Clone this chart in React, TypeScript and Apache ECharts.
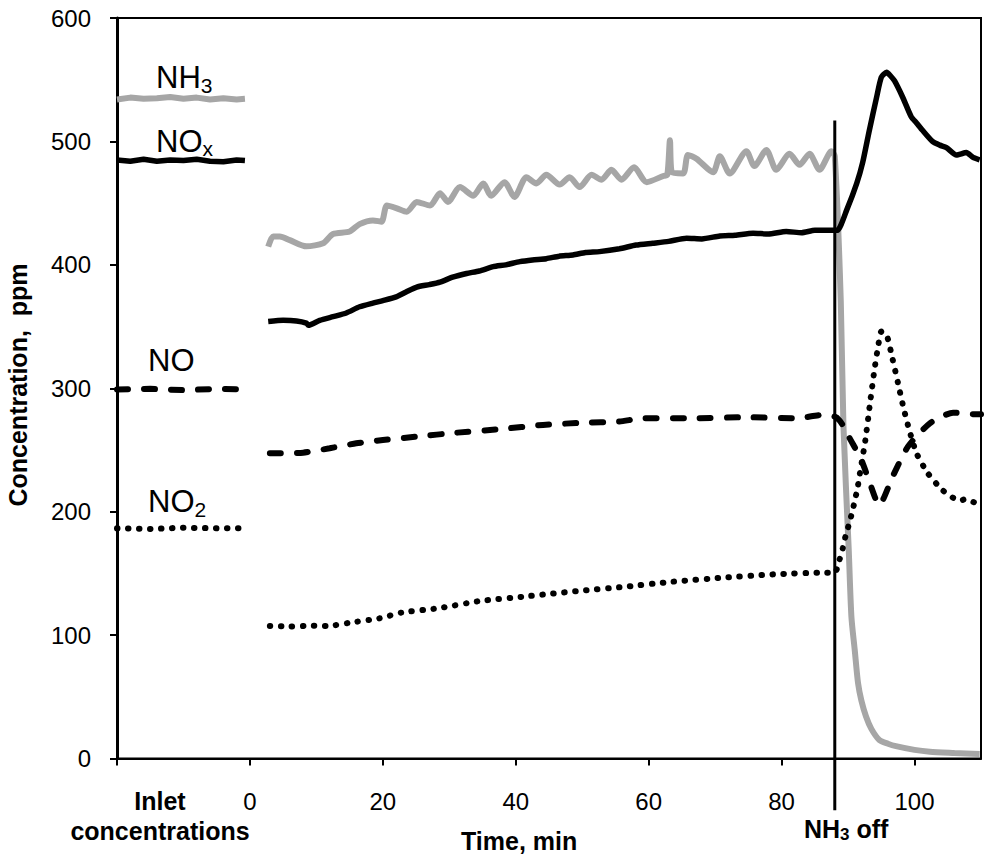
import React, { useEffect, useRef } from "react";
import * as echarts from "echarts";

// ---------- data (time in min, concentration in ppm) ----------
const xTickValues = [-20, 0, 20, 40, 60, 80, 100];
const xLabelValues = [0, 20, 40, 60, 80, 100];

const nh3Inlet = [[-20, 534], [-18, 535.5], [-16, 534.5], [-14, 535], [-12, 536], [-10, 534.5], [-8, 535.5], [-6, 534], [-4, 535], [-2, 534], [-0.75, 534.5]];
const noxInlet = [[-20, 485], [-18, 484], [-16, 485.5], [-14, 484], [-12, 485], [-10, 484.5], [-8, 485.5], [-6, 484], [-4, 483.5], [-2, 485], [-0.75, 484.5]];
const noInlet = [[-20, 299], [-15, 299.5], [-10, 298.5], [-5, 299.5], [-0.75, 299]];
const no2Inlet = [[-20, 186.5], [-15, 186], [-10, 187], [-5, 186.5], [-0.75, 186.5]];

const nh3Run = [
  [2.75, 414.7], [3.5, 423], [4.5, 423], [6, 420], [8.5, 415], [11, 417.5], [12.5, 425], [15, 427], [16.5, 433],
  [18.5, 436], [19.8, 435], [20.6, 448], [22, 446], [23.6, 443], [25.1, 451], [27.1, 448], [28.6, 458], [29.8, 451],
  [31.6, 463], [33.6, 456], [35.1, 466], [36.3, 456], [38.3, 467], [39.8, 455], [41.6, 471], [43.1, 466], [44.6, 473],
  [46.6, 465], [48.1, 471], [49.6, 463], [51.4, 473], [52.9, 469], [54.4, 477], [55.9, 469], [57.8, 479], [59.7, 467],
  [62.2, 472], [62.8, 473], [63.2, 501], [63.5, 475], [65.2, 474], [65.9, 489], [67.2, 486], [69.7, 475], [70.7, 488],
  [72.2, 474], [74.7, 492], [75.9, 480], [77.7, 493], [79.2, 477], [81.2, 490], [82.7, 481], [84.2, 490], [85.7, 477],
  [87.5, 492], [88.0, 488], [88.9, 371], [89.3, 270], [90.1, 169], [90.5, 115], [91.0, 88], [91.5, 61], [92.0, 47],
  [92.7, 34], [93.5, 24], [94.7, 15], [96, 12], [97.2, 10], [100, 7], [102.3, 5.5], [106, 4.5], [109.8, 3.6]
];
const noxRun = [
  [2.75, 354], [5, 355], [7, 354.5], [8.5, 352.7], [8.8, 351], [10.5, 355], [12.5, 358], [14.5, 361], [16.5, 366],
  [18.5, 369], [20, 371], [22, 374], [23.5, 378], [25.1, 382], [27, 384], [28.6, 386], [30.5, 390], [32.6, 393],
  [34.5, 395], [36.6, 398.5], [38.5, 400], [40.6, 402.6], [42.5, 404], [44.6, 405], [46.5, 407], [48.6, 408],
  [50.5, 410], [52.6, 410.7], [55.6, 413], [58.1, 416], [60.6, 417.5], [63, 419], [65.7, 421.5], [68, 421],
  [70.7, 423.4], [73, 424], [75.7, 425.6], [78, 425], [80.7, 427], [83, 426], [85, 428], [87.7, 428], [88.4, 428],
  [89.8, 444.5], [91.3, 466], [92.2, 483], [93.2, 509], [94.3, 536], [95.0, 552], [95.8, 556], [96.4, 553], [97.0, 549],
  [98.2, 536], [99.5, 520], [100.3, 515], [101.2, 509], [102.7, 500], [103.8, 497], [104.8, 495], [106.3, 489],
  [107.8, 491], [108.8, 487], [109.8, 485]
];
const noRun = [
  [3, 247.3], [8, 247.8], [12, 251.4], [16, 255.4], [20, 258], [25.1, 260.8], [31.1, 264], [37.6, 266.8], [44.1, 270.3],
  [50, 272], [55.6, 273], [59.1, 275.7], [66.6, 275.7], [74.7, 276.5], [82.3, 275.7], [86.2, 278.4], [88, 277],
  [88.7, 274], [89.5, 267.6], [90.2, 260], [92, 241.9], [94.2, 209.5], [94.7, 205.4], [96.7, 228.4], [99, 252.7],
  [102.3, 271.6], [105.8, 280.2], [109.3, 278.9], [110, 279]
];
const no2Run = [
  [3, 107.4], [6, 107], [9, 107.5], [11.8, 107.4], [15, 110], [19.5, 113.6], [22.8, 118.2], [28.3, 121.7], [34.6, 127.6],
  [41.1, 131.1], [44.9, 133.3], [50, 136], [55.6, 138.7], [63.7, 143.3], [71.2, 146.5], [78.7, 149.2], [86.7, 150.6],
  [88, 150.6], [88.7, 160.9], [89.2, 170.3], [89.6, 179.8], [90.1, 189.2], [90.6, 199.2], [91, 208.7], [91.4, 218.4],
  [91.7, 228.4], [92.6, 258], [93.3, 287.8], [94, 316.2], [94.6, 336.5], [95, 345.9], [95.8, 343.2], [96.7, 323.5],
  [97.5, 304.5], [98.3, 285.1], [99.2, 266.2], [100.3, 247.3], [102, 231.1], [104.3, 217], [106.8, 208.9], [107.6, 210],
  [109.3, 206.8]
];
const nh3OffMarker = [[88, 517], [88, -42]];

const FONT = "'Liberation Sans', Arial, Helvetica, sans-serif";

export default function App() {
  const ref = useRef<HTMLDivElement>(null);
  useEffect(() => {
    if (!ref.current) return;
    const chart = echarts.init(ref.current, null, { renderer: "svg" });

    const canvas = document.createElement("canvas");
    const ctx = canvas.getContext("2d")!;
    const measure = (text: string, size: number, bold: boolean) => {
      ctx.font = `${bold ? "bold " : ""}${size}px 'Liberation Sans', Arial, sans-serif`;
      return ctx.measureText(text).width;
    };
    const txt = (x: number, y: number, text: string, size: number, bold: boolean, extra: any = {}) => ({
      type: "text",
      x,
      y,
      silent: true,
      style: {
        text,
        fontSize: size,
        lineHeight: size,
        fontWeight: bold ? "bold" : "normal",
        fontFamily: FONT,
        fill: "#000",
        align: "left",
        verticalAlign: "top",
        ...extra,
      },
    });
    // main text + subscript (+ optional tail), top = top of main text box
    const subLabel = (x: number, top: number, main: string, sub: string, size: number, subSize: number, bold: boolean, drop: number, tail = "") => {
      const els: any[] = [];
      els.push(txt(x, top, main, size, bold));
      const wMain = measure(main, size, bold);
      const baseline = top + 0.847 * size;
      const subTop = baseline + drop - 0.847 * subSize;
      els.push(txt(x + wMain, subTop, sub, subSize, bold));
      if (tail) {
        const wSub = measure(sub, subSize, bold);
        els.push(txt(x + wMain + wSub, top, tail, size, bold));
      }
      return els;
    };

    const grayLine = { color: "#A6A6A6", width: 6 };
    const solidLine = { color: "#000", width: 5.5 };
    const dashLine = { color: "#000", width: 6, type: [11, 16] as any, cap: "round" as any };
    const dotLine = { color: "#000", width: 6, type: [0.5, 10.5] as any, cap: "round" as any };
    const mk = (name: string, data: number[][], lineStyle: any, z = 2, smooth: number | boolean = false) => ({
      type: "line",
      name,
      data,
      showSymbol: false,
      symbol: "none",
      silent: true,
      smooth,
      lineStyle,
      z,
    });

    const option: any = {
      animation: false,
      backgroundColor: "#fff",
      grid: {
        left: 117,
        top: 18,
        right: 4,
        bottom: 102.5,
        show: true,
        borderColor: "#000",
        borderWidth: 2,
        containLabel: false,
      },
      xAxis: {
        type: "value",
        min: -20,
        max: 110,
        interval: 20,
        splitLine: { show: false },
        axisLine: { show: true, onZero: false, lineStyle: { color: "#000", width: 2 } },
        axisTick: { show: true, inside: false, length: 7, lineStyle: { color: "#000", width: 2 }, customValues: xTickValues },
        axisLabel: {
          customValues: xLabelValues,
          margin: 31,
          fontSize: 24,
          fontFamily: FONT,
          color: "#000",
          formatter: (v: number) => (xLabelValues.indexOf(v) >= 0 ? String(v) : ""),
        },
      },
      yAxis: {
        type: "value",
        min: 0,
        max: 600,
        interval: 100,
        splitLine: { show: false },
        axisLine: { show: true, onZero: false, lineStyle: { color: "#000", width: 3 } },
        axisTick: { show: true, inside: false, length: 7, lineStyle: { color: "#000", width: 2 } },
        axisLabel: { margin: 26, fontSize: 24, fontFamily: FONT, color: "#000" },
      },
      series: [
        mk("NH3 inlet", nh3Inlet, grayLine),
        mk("NH3", nh3Run, grayLine, 2, 0.25),
        mk("NOx inlet", noxInlet, solidLine),
        mk("NOx", noxRun, solidLine, 3, 0.2),
        mk("NO inlet", noInlet, dashLine),
        mk("NO", noRun, dashLine, 3, 0.2),
        mk("NO2 inlet", no2Inlet, dotLine),
        mk("NO2", no2Run, dotLine, 3, 0.2),
        { ...mk("NH3 off", nh3OffMarker, { color: "#000", width: 3 }, 5), clip: false },
      ],
      graphic: [
        {
          type: "text", x: 18, y: 385, rotation: Math.PI / 2, silent: true,
          style: { text: "Concentration,  ppm", fontSize: 25, fontWeight: "bold", fontFamily: FONT, fill: "#000", align: "center", verticalAlign: "middle" },
        },
        txt(461, 828, "Time, min", 25, true),
        {
          type: "text", x: 160, y: 786, silent: true,
          style: { text: "Inlet\nconcentrations", fontSize: 25, lineHeight: 30, fontWeight: "bold", fontFamily: FONT, fill: "#000", align: "center", verticalAlign: "top" },
        },
        ...subLabel(804, 816, "NH", "3", 25, 17, true, 3.7, " off"),
        ...subLabel(156, 61.7, "NH", "3", 31, 21, false, 4.5),
        ...subLabel(156, 125.7, "NO", "x", 31, 21, false, 4),
        txt(148, 344.7, "NO", 31, false),
        ...subLabel(148, 485.7, "NO", "2", 31, 21, false, 4.5),
      ],
    };

    chart.setOption(option);
    return () => chart.dispose();
  }, []);

  return (
    <div
      ref={ref}
      style={{ position: "fixed", left: 0, top: 0, width: 985, height: 861, background: "#fff" }}
    />
  );
}
